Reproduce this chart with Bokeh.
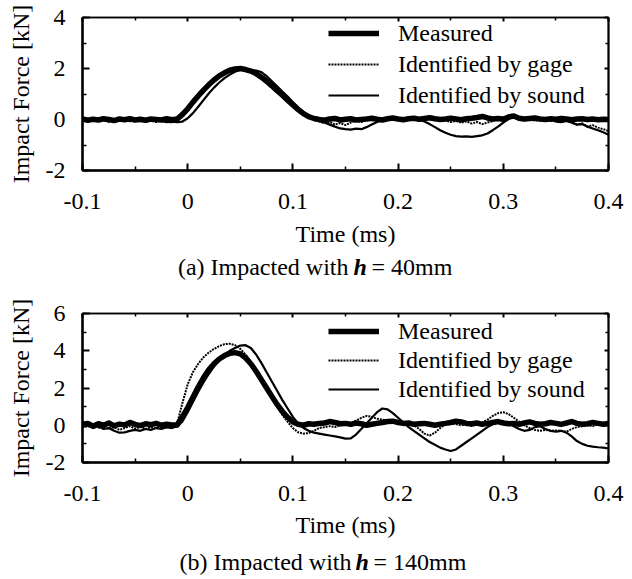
from bokeh.plotting import figure
from bokeh.models import FixedTicker, Legend, LegendItem, LinearAxis, Range1d
from bokeh.layouts import column
from bokeh.core.properties import value
from bokeh.embed import file_html
from bokeh.resources import INLINE

FONT = "Liberation Serif"
FS = "24px"

time_ms = [-0.100, -0.095, -0.090, -0.085, -0.080, -0.075, -0.070, -0.065, -0.060, -0.055,
           -0.050, -0.045, -0.040, -0.035, -0.030, -0.025, -0.020, -0.015, -0.010, -0.005,
           0.000, 0.005, 0.010, 0.015, 0.020, 0.025, 0.030, 0.035, 0.040, 0.045,
           0.050, 0.055, 0.060, 0.065, 0.070, 0.075, 0.080, 0.085, 0.090, 0.095,
           0.100, 0.105, 0.110, 0.115, 0.120, 0.125, 0.130, 0.135, 0.140, 0.145,
           0.150, 0.155, 0.160, 0.165, 0.170, 0.175, 0.180, 0.185, 0.190, 0.195,
           0.200, 0.205, 0.210, 0.215, 0.220, 0.225, 0.230, 0.235, 0.240, 0.245,
           0.250, 0.255, 0.260, 0.265, 0.270, 0.275, 0.280, 0.285, 0.290, 0.295,
           0.300, 0.305, 0.310, 0.315, 0.320, 0.325, 0.330, 0.335, 0.340, 0.345,
           0.350, 0.355, 0.360, 0.365, 0.370, 0.375, 0.380, 0.385, 0.390, 0.395,
           0.400]

# (a) h = 40 mm
measured_a = [0.02, -0.03, 0.01, -0.02, 0.03, 0.00, -0.04, 0.02, -0.01, 0.03,
              -0.02, 0.01, -0.03, 0.02, 0.00, -0.02, 0.03, -0.01, 0.02, 0.20,
              0.42, 0.68, 0.92, 1.15, 1.36, 1.55, 1.71, 1.83, 1.93, 1.98,
              2.00, 1.96, 1.90, 1.80, 1.66, 1.50, 1.32, 1.13, 0.95, 0.76,
              0.57, 0.39, 0.23, 0.11, 0.04, 0.00, -0.03, 0.02, 0.04, -0.02,
              0.01, 0.03, -0.02, 0.00, 0.02, 0.05, 0.01, -0.02, 0.03, 0.06,
              0.02, -0.01, 0.03, 0.05, 0.01, 0.04, 0.07, 0.03, 0.00, 0.02,
              0.05, 0.02, -0.01, 0.03, 0.05, 0.08, 0.12, 0.06, 0.02, 0.04,
              0.01, 0.10, 0.14, 0.05, 0.02, 0.04, 0.06, 0.02, 0.00, 0.03,
              0.01, 0.04, 0.02, -0.01, 0.02, 0.03, 0.00, 0.02, -0.01, 0.01,
              0.00]
gage_a = [-0.05, 0.02, -0.08, 0.03, -0.04, -0.10, 0.01, -0.06, 0.04, -0.07,
          -0.02, -0.09, 0.00, -0.05, -0.10, -0.03, -0.08, -0.12, -0.05, 0.10,
          0.35, 0.62, 0.88, 1.12, 1.35, 1.52, 1.68, 1.80, 1.90, 1.95,
          2.02, 1.98, 1.93, 1.84, 1.72, 1.57, 1.40, 1.20, 1.00, 0.80,
          0.60, 0.42, 0.25, 0.10, -0.02, -0.08, -0.15, -0.10, -0.20, -0.14,
          -0.22, -0.12, -0.05, -0.10, 0.02, -0.04, 0.03, -0.02, 0.05, 0.00,
          -0.03, 0.04, 0.06, 0.00, 0.03, 0.08, 0.02, -0.02, 0.05, -0.04,
          -0.10, -0.06, -0.12, -0.08, -0.16, -0.10, -0.18, -0.12, -0.06, 0.02,
          0.10, 0.05, 0.12, 0.00, -0.04, 0.02, -0.05, -0.02, 0.03, -0.06,
          -0.02, -0.10, -0.05, -0.12, -0.20, -0.15, -0.28, -0.22, -0.32, -0.38,
          -0.45]
sound_a = [-0.02, 0.03, -0.05, 0.00, 0.02, -0.04, -0.01, 0.03, -0.06, -0.02,
           0.01, -0.05, -0.08, -0.03, 0.00, -0.06, -0.10, -0.08, -0.10, -0.08,
           0.05, 0.25, 0.50, 0.76, 1.02, 1.25, 1.45, 1.62, 1.76, 1.87,
           1.95, 1.98, 1.95, 1.92, 1.86, 1.70, 1.50, 1.30, 1.10, 0.90,
           0.68, 0.48, 0.30, 0.14, 0.02, -0.05, -0.12, -0.20, -0.28, -0.35,
           -0.38, -0.40, -0.36, -0.38, -0.30, -0.20, -0.10, -0.02, 0.03, 0.00,
           0.05, 0.02, 0.06, 0.03, 0.00, -0.08, -0.18, -0.30, -0.42, -0.52,
           -0.60, -0.65, -0.67, -0.66, -0.68, -0.65, -0.62, -0.55, -0.42, -0.28,
           -0.12, 0.02, 0.15, 0.08, 0.02, -0.02, 0.02, -0.03, -0.06, -0.02,
           -0.08, -0.10, -0.06, -0.12, -0.20, -0.18, -0.28, -0.35, -0.42, -0.50,
           -0.60]

# (b) h = 140 mm
measured_b = [0.05, 0.10, -0.05, 0.08, 0.00, 0.12, -0.03, 0.06, 0.02, 0.15,
              0.05, -0.02, 0.08, 0.03, 0.10, 0.00, 0.06, 0.02, 0.02, 0.45,
              0.95, 1.50, 2.05, 2.55, 2.98, 3.30, 3.56, 3.74, 3.86, 3.90,
              3.83, 3.62, 3.30, 2.90, 2.45, 2.00, 1.55, 1.12, 0.74, 0.42,
              0.18, 0.05, 0.00, 0.08, 0.05, 0.10, 0.12, 0.20, 0.15, 0.08,
              0.10, 0.05, 0.12, 0.08, 0.00, 0.05, 0.10, 0.15, 0.20, 0.22,
              0.15, 0.10, 0.12, 0.05, 0.08, 0.10, 0.05, 0.00, 0.06, 0.10,
              0.15, 0.22, 0.18, 0.10, 0.08, 0.12, 0.05, 0.10, 0.15, 0.20,
              0.12, 0.08, 0.10, 0.05, 0.12, 0.18, 0.10, 0.05, 0.08, 0.15,
              0.10, 0.05, 0.12, 0.20, 0.10, 0.05, 0.08, 0.15, 0.10, 0.05,
              0.10]
gage_b = [0.00, -0.10, 0.05, -0.15, -0.05, -0.20, -0.10, -0.25, -0.15, -0.05,
          -0.18, -0.08, -0.20, -0.10, -0.15, -0.05, -0.12, -0.08, 0.10, 1.20,
          2.20, 2.85, 3.30, 3.65, 3.90, 4.10, 4.25, 4.35, 4.38, 4.30,
          4.10, 3.80, 3.40, 2.95, 2.45, 1.95, 1.45, 0.98, 0.55, 0.18,
          -0.15, -0.38, -0.45, -0.42, -0.30, -0.15, -0.10, -0.05, -0.10, 0.00,
          0.05, 0.10, 0.25, 0.40, 0.50, 0.45, 0.35, 0.30, 0.25, 0.20,
          0.15, 0.20, 0.10, 0.00, -0.20, -0.45, -0.55, -0.40, -0.15, 0.05,
          0.10, 0.05, 0.00, 0.05, -0.05, 0.05, 0.15, 0.30, 0.50, 0.65,
          0.70, 0.60, 0.40, 0.20, 0.00, -0.15, -0.25, -0.30, -0.25, -0.30,
          -0.28, -0.30, -0.35, -0.20, -0.10, -0.05, 0.00, -0.05, 0.05, 0.00,
          0.05]
sound_b = [-0.10, 0.00, -0.15, -0.05, -0.20, -0.15, -0.30, -0.40, -0.38, -0.30,
           -0.25, -0.30, -0.20, -0.25, -0.15, -0.20, -0.10, -0.15, -0.05, 0.20,
           0.70, 1.25, 1.80, 2.30, 2.75, 3.15, 3.50, 3.78, 4.00, 4.15,
           4.28, 4.30, 4.15, 3.80, 3.35, 2.85, 2.35, 1.85, 1.35, 0.90,
           0.45, 0.10, -0.15, -0.30, -0.40, -0.45, -0.50, -0.55, -0.60, -0.65,
           -0.72, -0.70, -0.50, -0.20, 0.10, 0.40, 0.70, 0.90, 0.85, 0.65,
           0.40, 0.15, -0.10, -0.30, -0.50, -0.70, -0.90, -1.05, -1.20, -1.30,
           -1.38, -1.30, -1.10, -0.90, -0.70, -0.50, -0.30, -0.10, 0.05, 0.15,
           0.20, 0.10, -0.05, -0.20, -0.30, -0.25, -0.10, -0.05, -0.20, -0.30,
           -0.35, -0.30, -0.40, -0.60, -0.85, -1.00, -1.10, -1.15, -1.18, -1.20,
           -1.25]

x_ticks = [-0.1, 0.0, 0.1, 0.2, 0.3, 0.4]
x_tick_labels = ["-0.1", "0", "0.1", "0.2", "0.3", "0.4"]
x_minor = [-0.05, 0.05, 0.15, 0.25, 0.35]
ya_ticks = [-2, 0, 2, 4]
ya_labels = ["-2", "0", "2", "4"]
ya_minor = [-1, 1, 3]
yb_ticks = [-2, 0, 2, 4, 6]
yb_labels = ["-2", "0", "2", "4", "6"]
yb_minor = [-1, 1, 3, 5]
legend_labels = ["Measured", "Identified by gage", "Identified by sound"]
caption_a = ["(a) Impacted with", "h", "= 40mm"]
caption_b = ["(b) Impacted with", "h", "= 140mm"]


def style_axis(ax, tin, tmin, lw):
    ax.axis_line_width = lw
    ax.axis_line_color = "black"
    ax.major_tick_in = tin
    ax.major_tick_out = 0
    ax.minor_tick_in = tmin
    ax.minor_tick_out = 0
    ax.major_tick_line_width = 2
    ax.minor_tick_line_width = 1.5
    ax.major_tick_line_color = "black"
    ax.minor_tick_line_color = "black"


def panel(meas, gage, sound, y_lo, y_hi, y_ticks, y_labels, y_minor,
          frame_h, top_b, bot_b, leg_y, leg_sp, xlab_standoff):
    p = figure(frame_width=526, frame_height=frame_h, title=None,
               x_range=Range1d(-0.1, 0.4), y_range=Range1d(y_lo, y_hi),
               output_backend="svg", toolbar_location=None,
               min_border_left=82, min_border_right=24,
               min_border_top=top_b, min_border_bottom=bot_b,
               x_axis_label="Time (ms)", y_axis_label="Impact Force [kN]")
    p.background_fill_color = "white"
    p.border_fill_color = "white"
    p.xgrid.visible = False
    p.ygrid.visible = False
    p.outline_line_color = "black"
    p.outline_line_width = 1.5

    r_m = p.line(time_ms, meas, line_color="black", line_width=5.5, line_join="round")
    r_g = p.line(time_ms, gage, line_color="black", line_width=2, line_dash="2 1")
    r_s = p.line(time_ms, sound, line_color="black", line_width=2.2, line_join="round")

    xa = p.xaxis[0]
    ya = p.yaxis[0]
    xa.ticker = FixedTicker(ticks=x_ticks, minor_ticks=x_minor)
    ya.ticker = FixedTicker(ticks=y_ticks, minor_ticks=y_minor)
    xa.major_label_overrides = dict(zip(x_ticks, x_tick_labels))
    ya.major_label_overrides = dict(zip(y_ticks, y_labels))
    for ax in (xa, ya):
        style_axis(ax, 7, 4, 2.5)
        ax.major_label_text_font = FONT
        ax.major_label_text_font_size = FS
        ax.major_label_text_color = "black"
        ax.axis_label_text_font = FONT
        ax.axis_label_text_font_size = FS
        ax.axis_label_text_font_style = "normal"
        ax.axis_label_text_color = "black"
    xa.major_label_standoff = 23
    xa.axis_label_standoff = xlab_standoff
    ya.major_label_standoff = 17
    ya.axis_label_standoff = 9

    top_ax = LinearAxis(ticker=FixedTicker(ticks=x_ticks, minor_ticks=x_minor),
                        major_label_overrides={t: "" for t in x_ticks},
                        major_label_standoff=0)
    right_ax = LinearAxis(ticker=FixedTicker(ticks=y_ticks, minor_ticks=y_minor),
                          major_label_overrides={t: "" for t in y_ticks},
                          major_label_standoff=0)
    style_axis(top_ax, 4, 3, 1.5)
    style_axis(right_ax, 4, 3, 2)
    p.add_layout(top_ax, "above")
    p.add_layout(right_ax, "right")

    leg = Legend(items=[LegendItem(label=legend_labels[0], renderers=[r_m]),
                        LegendItem(label=legend_labels[1], renderers=[r_g]),
                        LegendItem(label=legend_labels[2], renderers=[r_s])],
                 location=(246, leg_y), orientation="vertical",
                 glyph_width=51, glyph_height=28, label_height=28,
                 label_standoff=19, spacing=leg_sp, padding=0, margin=0,
                 border_line_alpha=0, background_fill_alpha=0,
                 label_text_font=FONT, label_text_font_size=FS,
                 label_text_color="black", label_text_baseline="middle")
    p.add_layout(leg)
    return p


def caption_fig(parts, xs, base_y, h):
    # frame aligned with the panels' frame; x data units = page pixels
    c = figure(frame_width=526, frame_height=h, title=None,
               x_range=Range1d(82, 608), y_range=Range1d(0, h),
               output_backend="svg", toolbar_location=None,
               min_border_left=82, min_border_right=24,
               min_border_top=0, min_border_bottom=0,
               x_axis_type=None, y_axis_type=None)
    c.outline_line_color = None
    c.background_fill_color = "white"
    c.border_fill_color = "white"
    c.text(x=[xs[0]], y=[base_y], text=[parts[0]], text_align="right",
           text_baseline="alphabetic", text_font=value(FONT),
           text_font_size=value(FS), text_color="black")
    c.text(x=[xs[1]], y=[base_y], text=[parts[1]], text_align="left",
           text_baseline="alphabetic", text_font=value(FONT),
           text_font_size=value(FS), text_font_style="bold italic", text_color="black")
    c.text(x=[xs[2]], y=[base_y], text=[parts[2]], text_align="left",
           text_baseline="alphabetic", text_font=value(FONT),
           text_font_size=value(FS), text_color="black")
    return c


p1 = panel(measured_a, gage_a, sound_a, -2, 4, ya_ticks, ya_labels, ya_minor,
           153, 17, 84, 61, 3, 9)
c1 = caption_fig(caption_a, (348, 353, 371), 22, 34)
p2 = panel(measured_b, gage_b, sound_b, -2, 6, yb_ticks, yb_labels, yb_minor,
           149, 25, 84, 59, 1, 8)
c2 = caption_fig(caption_b, (351, 355, 373), 18, 33)

layout = column(p1, c1, p2, c2, spacing=0)
open("out.html", "w").write(file_html(layout, INLINE))
